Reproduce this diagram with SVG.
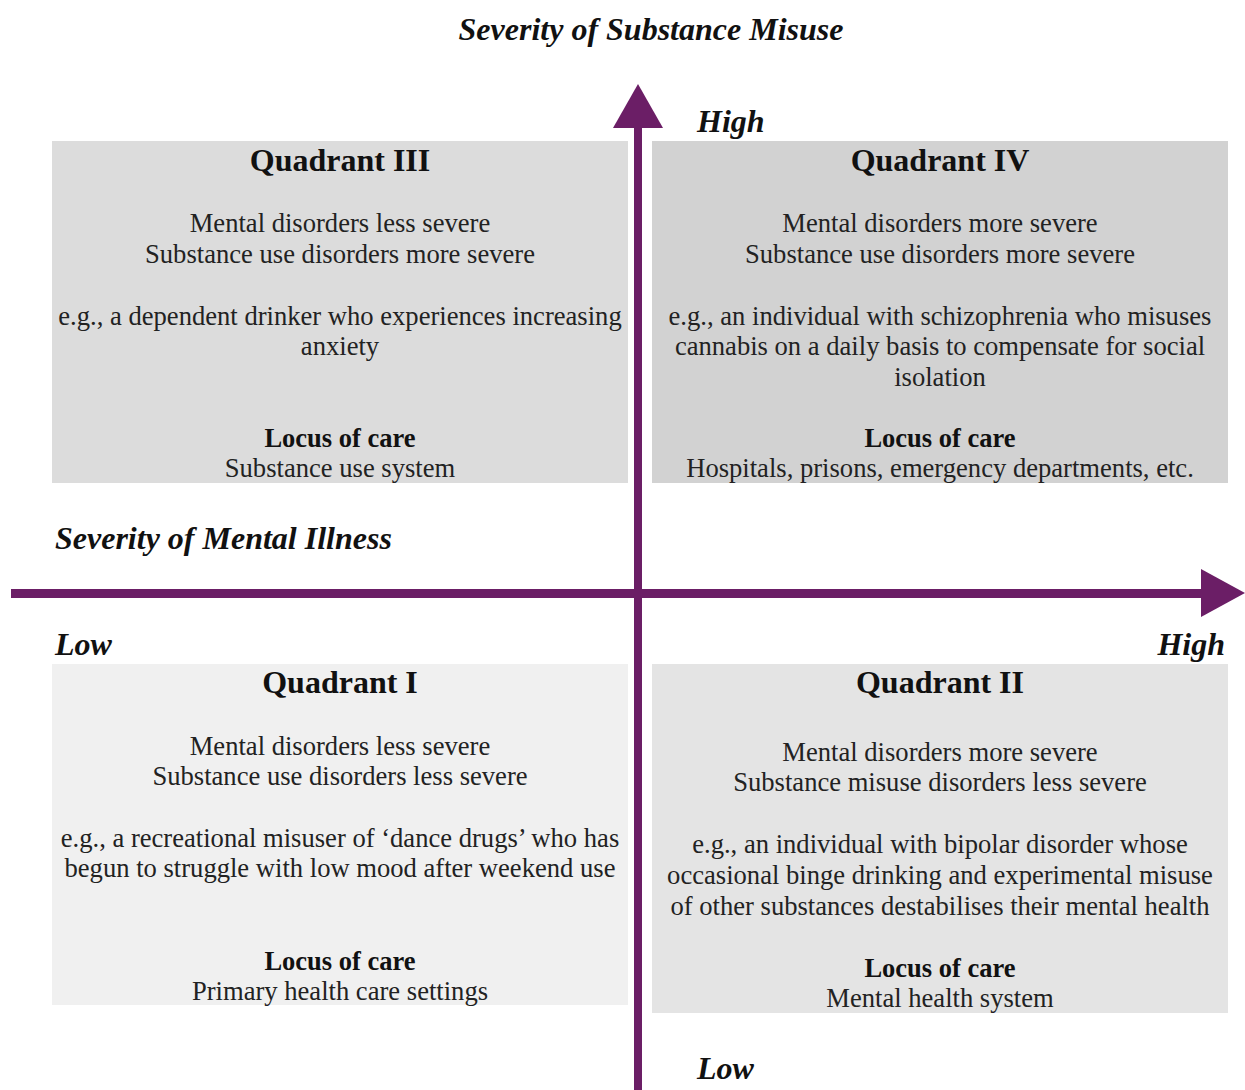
<svg xmlns="http://www.w3.org/2000/svg" width="1245" height="1090" viewBox="0 0 1245 1090">
<style>
text{font-family:"Liberation Serif","Times New Roman",serif;fill:#1a1a1a;text-anchor:middle}
.ax{font-weight:bold;font-style:italic;font-size:32px;fill:#111}
.lbl{font-weight:bold;font-style:italic;font-size:32px;text-anchor:start;fill:#111}
.qt{font-weight:bold;font-size:32px;fill:#111}
.bd{font-size:26.6px;fill:#222}
.lc{font-weight:bold;font-size:26.5px;fill:#111}
.axis{fill:#6b1e66}
</style>
<rect width="1245" height="1090" fill="#ffffff"/>
<g id="q3">
<rect x="52" y="141" width="576" height="342" fill="#dcdcdc"/>
<text class="qt" x="340" y="171">Quadrant III</text>
<text class="bd" x="340" y="232">Mental disorders less severe</text>
<text class="bd" x="340" y="263">Substance use disorders more severe</text>
<text class="bd" x="340" y="325">e.g., a dependent drinker who experiences increasing</text>
<text class="bd" x="340" y="355">anxiety</text>
<text class="lc" x="340" y="447">Locus of care</text>
<text class="bd" x="340" y="477">Substance use system</text>
</g>
<g id="q4">
<rect x="652" y="141" width="576" height="342" fill="#d2d2d2"/>
<text class="qt" x="940" y="171">Quadrant IV</text>
<text class="bd" x="940" y="232">Mental disorders more severe</text>
<text class="bd" x="940" y="263">Substance use disorders more severe</text>
<text class="bd" x="940" y="325">e.g., an individual with schizophrenia who misuses</text>
<text class="bd" x="940" y="355">cannabis on a daily basis to compensate for social</text>
<text class="bd" x="940" y="386">isolation</text>
<text class="lc" x="940" y="447">Locus of care</text>
<text class="bd" x="940" y="477">Hospitals, prisons, emergency departments, etc.</text>
</g>
<g id="q1">
<rect x="52" y="664" width="576" height="341" fill="#f0f0f0"/>
<text class="qt" x="340" y="693">Quadrant I</text>
<text class="bd" x="340" y="755">Mental disorders less severe</text>
<text class="bd" x="340" y="785">Substance use disorders less severe</text>
<text class="bd" x="340" y="847">e.g., a recreational misuser of ‘dance drugs’ who has</text>
<text class="bd" x="340" y="877">begun to struggle with low mood after weekend use</text>
<text class="lc" x="340" y="970">Locus of care</text>
<text class="bd" x="340" y="1000">Primary health care settings</text>
</g>
<g id="q2">
<rect x="652" y="664" width="576" height="349" fill="#e4e4e4"/>
<text class="qt" x="940" y="693">Quadrant II</text>
<text class="bd" x="940" y="761">Mental disorders more severe</text>
<text class="bd" x="940" y="791">Substance misuse disorders less severe</text>
<text class="bd" x="940" y="853">e.g., an individual with bipolar disorder whose</text>
<text class="bd" x="940" y="884">occasional binge drinking and experimental misuse</text>
<text class="bd" x="940" y="915">of other substances destabilises their mental health</text>
<text class="lc" x="940" y="977">Locus of care</text>
<text class="bd" x="940" y="1007">Mental health system</text>
</g>
<g id="connectors">
<rect class="axis" x="634" y="125" width="8" height="965"/>
<polygon class="axis" points="638,84 663,128 613,128"/>
<rect class="axis" x="11" y="589" width="1192" height="9"/>
<polygon class="axis" points="1245,593 1201,569 1201,617"/>
</g>
<g id="labels">
<text class="ax" x="651" y="40">Severity of Substance Misuse</text>
<text class="lbl" x="697" y="132">High</text>
<text class="lbl" x="55" y="549">Severity of Mental Illness</text>
<text class="lbl" x="55" y="655">Low</text>
<text class="lbl" x="1225" y="655" style="text-anchor:end">High</text>
<text class="lbl" x="697" y="1079">Low</text>
</g>
</svg>
